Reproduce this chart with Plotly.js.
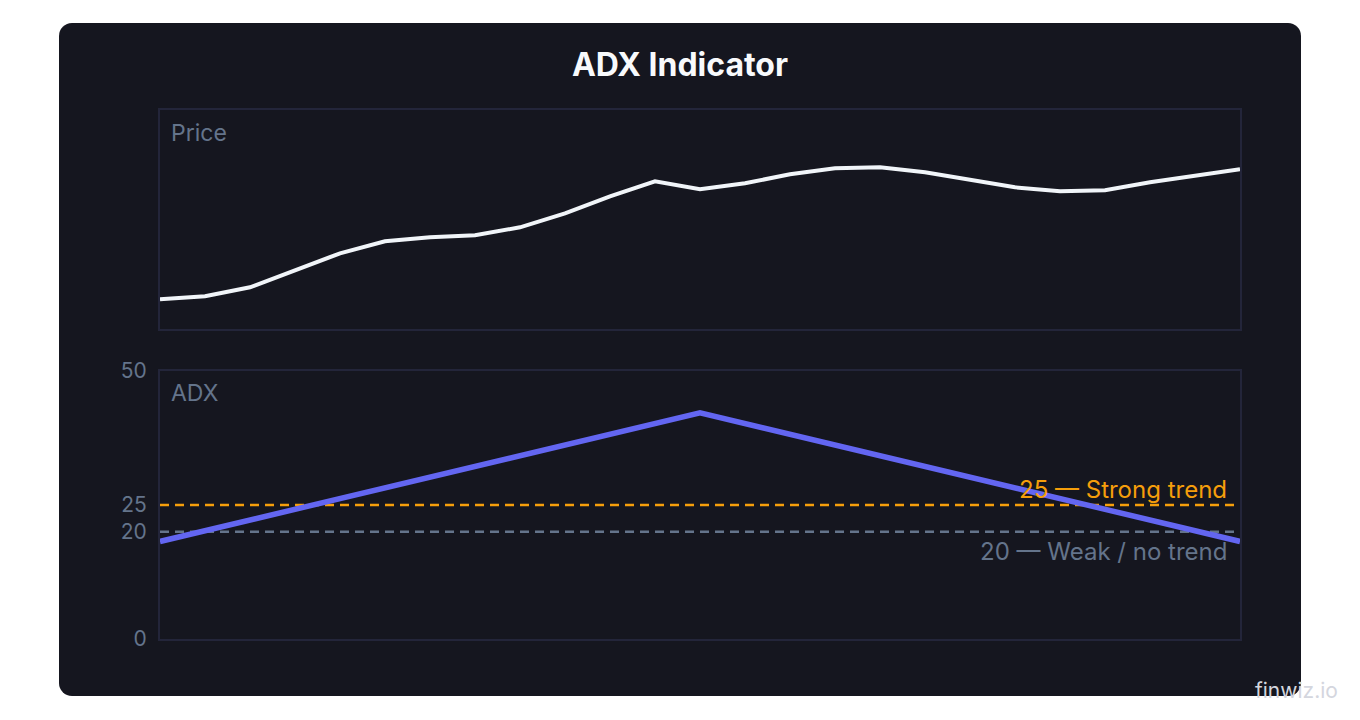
<!DOCTYPE html>
<html>
<head>
<meta charset="utf-8">
<script src="https://cdn.plot.ly/plotly-3.0.1.min.js"></script>
<style>
  html, body { margin: 0; padding: 0; background: #ffffff; }
  #card {
    position: absolute; left: 59px; top: 23px; width: 1242px; height: 673px;
    background: #15161f; border-radius: 13px;
  }
  #chart { position: absolute; left: 0; top: 0; width: 1360px; height: 720px; }
</style>
</head>
<body>
<div id="card"></div>
<div id="chart"></div>
<script>
// bar index along the x axis (no labels shown)
const barIndex = [0, 1, 2, 3, 4, 5, 6, 7, 8, 9, 10, 11, 12, 13, 14, 15, 16, 17, 18, 19, 20, 21, 22, 23, 24];
const priceValues = [100.0, 100.3, 101.2, 102.9, 104.6, 105.8, 106.2, 106.4, 107.2, 108.6, 110.3, 111.8, 111.0,
                     111.6, 112.5, 113.1, 113.2, 112.7, 111.9, 111.2, 110.8, 110.9, 111.7, 112.4, 113.0];
const adxIndex = [0, 12, 24];
const adxValues = [18.2, 42.2, 18.2];
const adxTicks = [0, 20, 25, 50];
const strongLevel = 25;
const weakLevel = 20;

const gridLine = "#23253a";
const muted = "#64748b";
const font = "Inter, 'Noto Sans', sans-serif";

var price = {
  x: barIndex, y: priceValues,
  xaxis: "x", yaxis: "y",
  type: "scatter", mode: "lines",
  line: { color: "#f1f5f9", width: 4 },
  hoverinfo: "skip", showlegend: false,
};

var adx = {
  x: adxIndex, y: adxValues,
  xaxis: "x2", yaxis: "y2",
  type: "scatter", mode: "lines",
  line: { color: "#6366f1", width: 5.5 },
  hoverinfo: "skip", showlegend: false,
};

function levelLine(level, color) {
  return {
    type: "line", xref: "x2 domain", yref: "y2",
    x0: 0, x1: 1, y0: level, y1: level,
    line: { color: color, width: 2.5, dash: "9px,6px" },
    layer: "below",
  };
}

var boxAxis = {
  showline: true, linecolor: gridLine, linewidth: 2, mirror: true,
  showgrid: false, zeroline: false, ticks: "",
};

var layout = {
  width: 1360, height: 720,
  paper_bgcolor: "rgba(0,0,0,0)",
  plot_bgcolor: "rgba(0,0,0,0)",
  margin: { l: 160, r: 120, t: 110, b: 81 },
  font: { family: font, color: muted, size: 17 },
  title: {
    text: "<b>ADX Indicator</b>",
    font: { family: font, size: 32, color: "#f8fafc" },
    x: 0.5, xref: "container", xanchor: "center",
    y: 1 - 65 / 720, yref: "container", yanchor: "middle",
  },
  xaxis: Object.assign({}, boxAxis, { range: [0, 24], showticklabels: false, anchor: "y" }),
  yaxis: Object.assign({}, boxAxis, { range: [97.03, 118.93], showticklabels: false, domain: [1 - 219 / 529, 1] }),
  xaxis2: Object.assign({}, boxAxis, { range: [0, 24], showticklabels: false, anchor: "y2" }),
  yaxis2: Object.assign({}, boxAxis, {
    range: [0, 50], domain: [0, 268 / 529], anchor: "x2",
    tickvals: adxTicks, ticktext: adxTicks.map(String),
    tickfont: { family: font, size: 21, color: muted },
    ticklabelstandoff: 7,
  }),
  shapes: [levelLine(strongLevel, "#f59e0b"), levelLine(weakLevel, "#64748b")],
  annotations: [
    { text: "Price", xref: "x domain", yref: "y domain", x: 0.008, y: 1, yshift: -23,
      xanchor: "left", yanchor: "middle",
      showarrow: false, font: { family: font, size: 23, color: muted } },
    { text: "ADX", xref: "x2 domain", yref: "y2 domain", x: 0.008, y: 1, yshift: -22,
      xanchor: "left", yanchor: "middle",
      showarrow: false, font: { family: font, size: 23, color: muted } },
    { text: strongLevel + " — Strong trend", xref: "x2 domain", yref: "y2", x: 0.99, y: strongLevel,
      xanchor: "right", yanchor: "middle", yshift: 16, showarrow: false,
      font: { family: font, size: 24, color: "#f59e0b" } },
    { text: weakLevel + " — Weak / no trend", xref: "x2 domain", yref: "y2", x: 0.99, y: weakLevel,
      xanchor: "right", yanchor: "middle", yshift: -20, showarrow: false,
      font: { family: font, size: 24, color: muted } },
    { text: "finwiz.io", xref: "paper", yref: "paper", x: 1 + 100 / 1080, y: -51 / 529,
      xanchor: "right", yanchor: "middle", showarrow: false,
      font: { family: font, size: 21, color: "#d4d6de" } },
  ],
};

Plotly.newPlot("chart", [price, adx], layout, { displayModeBar: false, staticPlot: true });
</script>
</body>
</html>
